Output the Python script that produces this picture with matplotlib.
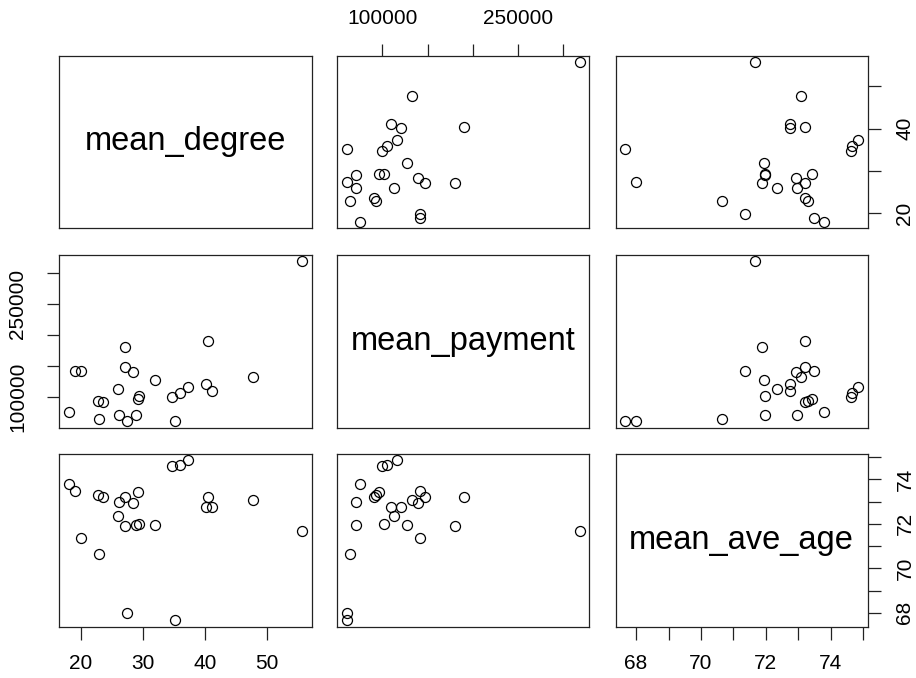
import matplotlib
matplotlib.use("Agg")
import matplotlib.pyplot as plt

plt.rcParams['font.family'] = ['Liberation Sans', 'DejaVu Sans']

# one row per region
mean_degree = [18.0, 19.03, 19.95, 22.82, 23.56, 22.91, 26.10, 27.12, 28.41, 29.22,
               26.05, 27.07, 28.96, 29.39, 31.88, 27.44, 34.72, 36.02, 37.31, 35.11,
               40.50, 40.18, 41.20, 47.73, 55.76]
mean_payment = [74800, 141900, 141900, 92600, 91000, 64500, 70700, 147400, 139400, 95800,
                112400, 180700, 71000, 101600, 126900, 60300, 99500, 105500, 116100, 60300,
                190300, 120000, 109200, 132300, 318900]
mean_ave_age = [73.78, 73.47, 71.35, 73.29, 73.22, 70.64, 72.97, 73.22, 72.92, 73.43,
                72.34, 71.89, 71.96, 71.98, 71.93, 68.00, 74.61, 74.64, 74.85, 67.66,
                73.22, 72.75, 72.75, 73.08, 71.66]

names = ['mean_degree', 'mean_payment', 'mean_ave_age']
cols = [mean_degree, mean_payment, mean_ave_age]

degree_ticks = [20, 30, 40, 50]
payment_ticks = [100000, 150000, 200000, 250000, 300000]
payment_labels = ['100000', '', '', '250000', '']
age_ticks = [68, 69, 70, 71, 72, 73, 74, 75]
age_labels = ['68', '', '70', '', '72', '', '74', '']

W, H = 916, 678
fig = plt.figure(figsize=(W / 100, H / 100), dpi=100)

# panel edges in pixels
col_x = [(59.3, 311.7), (337.3, 589.3), (615.7, 867.7)]
row_y = [(55.5, 228.3), (255.0, 427.7), (454.0, 626.7)]


def lims(v):
    lo, hi = min(v), max(v)
    r = hi - lo
    return lo - 0.04 * r, hi + 0.04 * r


tick_kw = dict(length=9, width=0.9, labelsize=15, color='#222222')

axes = {}
for i in range(3):
    for j in range(3):
        x0, x1 = col_x[j]
        y0, y1 = row_y[i]
        ax = fig.add_axes([x0 / W, 1 - y1 / H, (x1 - x0) / W, (y1 - y0) / H])
        axes[i, j] = ax
        ax.set_xlim(lims(cols[j]))
        ax.set_ylim(lims(cols[i]))
        ax.set_xticks([])
        ax.set_yticks([])
        for s in ax.spines.values():
            s.set_linewidth(0.9)
            s.set_color('#222222')
        if i == j:
            ax.text(0.5, 0.5, names[i], transform=ax.transAxes, ha='center',
                    va='center', fontsize=23.5)
        else:
            ax.plot(cols[j], cols[i], 'o', ms=7.2, mfc='none', mec='black', mew=0.9)

# top axis: mean_payment
ax = axes[0, 1]
ax.xaxis.tick_top()
ax.set_xticks(payment_ticks, payment_labels)
ax.tick_params(axis='x', pad=11, **tick_kw)

# right axis: mean_degree
ax = axes[0, 2]
ax.yaxis.tick_right()
ax.set_yticks(degree_ticks, ['20', '', '40', ''])
ax.tick_params(axis='y', pad=11, **tick_kw)
for t in ax.get_yticklabels():
    t.set_rotation(90)
    t.set_va('center')

# left axis: mean_payment
ax = axes[1, 0]
ax.set_yticks(payment_ticks, payment_labels)
ax.tick_params(axis='y', pad=14, **tick_kw)
for t in ax.get_yticklabels():
    t.set_rotation(90)
    t.set_va('center')

# bottom axis: mean_degree
ax = axes[2, 0]
ax.set_xticks(degree_ticks, [str(d) for d in degree_ticks])
ax.tick_params(axis='x', pad=11, **tick_kw)

# bottom and right axes: mean_ave_age
ax = axes[2, 2]
ax.set_xticks(age_ticks, age_labels)
ax.tick_params(axis='x', pad=11, **tick_kw)
ax.yaxis.tick_right()
ax.set_yticks(age_ticks, age_labels)
ax.tick_params(axis='y', pad=11, **tick_kw)
for t in ax.get_yticklabels():
    t.set_rotation(90)
    t.set_va('center')

fig.savefig('out.png', dpi=100, facecolor='white')
